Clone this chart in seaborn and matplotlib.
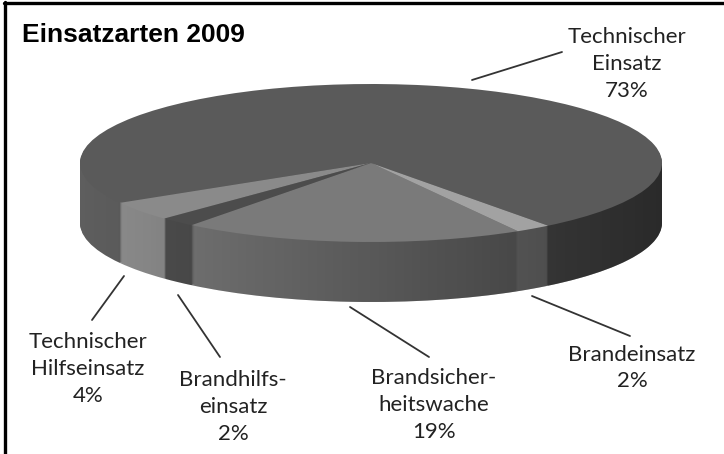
import numpy as np
import matplotlib
matplotlib.use("Agg")
import matplotlib.pyplot as plt
from matplotlib.path import Path
from matplotlib.lines import Line2D
import seaborn as sns

# Einsatzarten 2009 (shares in %)
categories = ["Technischer Einsatz", "Technischer Hilfseinsatz", "Brandhilfseinsatz",
              "Brandsicherheitswache", "Brandeinsatz"]
label_names = ["Technischer\nEinsatz", "Technischer\nHilfseinsatz", "Brandhilfs-\neinsatz",
               "Brandsicher-\nheitswache", "Brandeinsatz"]
shares = [73, 4, 2, 19, 2]

top_colors = ["#5a5a5a", "#8a8a8a", "#4c4c4c", "#7a7a7a", "#a2a2a2"]
side_colors = ["#5e5e5e", "#8e8e8e", "#505050", "#7a7a7a", "#8c8c8c"]

sns.set_theme(style="white")
plt.rcParams["font.family"] = ["Lato", "DejaVu Sans"]

W, H = 724, 454
fig = plt.figure(figsize=(W / 100, H / 100), dpi=100)
ax = fig.add_axes([0, 0, 1, 1])

# pie geometry in pixels: centre, radii, thickness
cx, cy, rx, ry = 371, 163, 291, 79
depth = 60 / ry
start = 307.5

# side of the "3D" pie: stacked pies
for off in np.linspace(-depth, 0, 61)[:-1]:
    ax.pie(shares, colors=side_colors, startangle=start, counterclock=True,
           center=(0, off), radius=1, wedgeprops=dict(linewidth=0, zorder=1))

# light from the left -> darker on the right
grad = np.zeros((1, 256, 4))
grad[..., 3] = np.linspace(0.0, 0.55, 256)
im = ax.imshow(grad, extent=(-1, 1, -depth - 1, 0), aspect="auto", zorder=2,
               interpolation="bilinear")
t = np.linspace(0, np.pi, 120)
outline = np.concatenate([np.c_[np.cos(t), np.sin(t)],
                          np.c_[np.cos(t + np.pi), np.sin(t + np.pi) - depth]])
im.set_clip_path(Path(np.vstack([outline, outline[:1]]), closed=True), ax.transData)

# top face
ax.pie(shares, colors=top_colors, startangle=start, counterclock=True,
       center=(0, 0), radius=1, wedgeprops=dict(linewidth=0, zorder=3))

ax.set_aspect("auto")
ax.set_xlim(-cx / rx, (W - cx) / rx)
ax.set_ylim((cy - H) / ry, cy / ry)
ax.axis("off")


def fxy(x, y):
    return (x / W, 1 - y / H)


# label layout (pixel positions): text centre, leader start, leader end
label_pos = [(627, 64), (88, 369), (233, 407), (434, 405), (632, 368)]
leaders = [((562, 52), (472, 80)), ((92, 320), (124, 276)), ((220, 357), (178, 295)),
           ((429, 357), (350, 307)), ((630, 336), (532, 296))]

for name, s, pos, (p0, p1) in zip(label_names, shares, label_pos, leaders):
    fig.text(*fxy(*pos), f"{name}\n{s}%", ha="center", va="center",
             multialignment="center", fontsize=16, color="#222222", linespacing=1.43)
    fig.add_artist(Line2D([p0[0] / W, p1[0] / W], [1 - p0[1] / H, 1 - p1[1] / H],
                          color="#333333", lw=1.3, transform=fig.transFigure))

fig.text(*fxy(22, 35), "Einsatzarten 2009", ha="left", va="center", fontsize=19,
         fontweight="bold", family="Liberation Sans", color="black")

# frame (left and top edges visible)
fig.add_artist(Line2D([5 / W, 5 / W], [0, 1 - 2 / H], color="black", lw=2.4,
                      transform=fig.transFigure))
fig.add_artist(Line2D([4 / W, 1], [1 - 3 / H, 1 - 3 / H], color="black", lw=2.4,
                      transform=fig.transFigure))

fig.savefig("out.png", dpi=100)
